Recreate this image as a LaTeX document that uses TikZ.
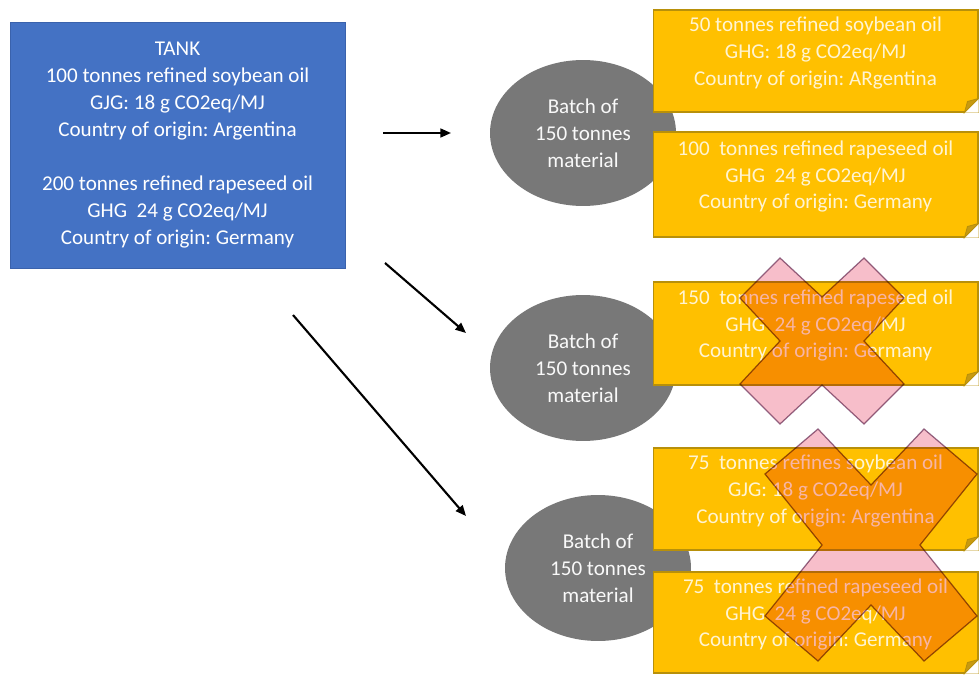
\documentclass[tikz,border=0pt]{standalone}
\usepackage{fontspec}
\setmainfont{Carlito}
\frenchspacing
\usetikzlibrary{shapes.geometric,arrows.meta}
\definecolor{tankblue}{HTML}{4472C4}
\definecolor{tankedge}{HTML}{3A62AC}
\definecolor{batchgray}{HTML}{787878}
\definecolor{oilyellow}{HTML}{FFC000}
\definecolor{oiledge}{HTML}{B8900A}
\definecolor{oiltext}{HTML}{FFF4D2}
\definecolor{folddark}{HTML}{C89A10}
\definecolor{crosspink}{RGB}{247,190,202}
\definecolor{crossedge}{RGB}{150,110,140}
\newcommand{\drawcross}[8]{% cx cy a h w c tn sn
  \path[crossstyle] ({#1-#3},{#2-#4}) -- ({#1},{#2-#7}) -- ({#1+#3},{#2-#4})
   -- ({#1+#5},{#2-#6}) -- ({#1+#8},{#2}) -- ({#1+#5},{#2+#6})
   -- ({#1+#3},{#2+#4}) -- ({#1},{#2+#7}) -- ({#1-#3},{#2+#4})
   -- ({#1-#5},{#2+#6}) -- ({#1-#8},{#2}) -- ({#1-#5},{#2-#6}) -- cycle;}
\tikzset{
  tankbox/.style={rectangle, fill=tankblue, draw=tankedge, line width=0.5pt, text=white, align=center, inner sep=0pt},
  batch/.style={ellipse, fill=batchgray, minimum width=3.72cm, minimum height=2.92cm, inner sep=0pt, text=white!95!gray, align=center},
  oilbox/.style={rectangle, fill=oilyellow, draw=oiledge, line width=0.6pt, minimum width=6.5cm, inner sep=0pt},
  oillabel/.style={text=oiltext, align=center, inner sep=0pt},
  fold/.style={fill=folddark, draw=oiledge, line width=0.5pt},
  flow/.style={line width=1.2pt, -{Triangle[length=6pt,width=5pt]}},
  crossstyle/.style={fill=crosspink, draw=crossedge, line width=0.7pt, blend mode=multiply}
}
\begin{document}
\begin{tikzpicture}[x=0.02cm, y=-0.02cm, font=\fontsize{12}{15.3}\selectfont]
\useasboundingbox[fill=white] (0,0) rectangle (979,675);

% tank
\node[tankbox, minimum width=6.7cm, minimum height=4.92cm] (tank) at (177.5,145)
 {TANK\\100 tonnes refined soybean oil\\GJG: 18 g CO2eq/MJ\\Country of origin: Argentina\\[15.3pt]
  200 tonnes refined rapeseed oil\\GHG~~24 g CO2eq/MJ\\Country of origin: Germany};

% arrows
\coordinate (a1s) at (383,133); \coordinate (a1e) at (451,133);
\coordinate (a2s) at (385,263); \coordinate (a2e) at (466,333);
\coordinate (a3s) at (293,315); \coordinate (a3e) at (466,516);
\draw[flow] (a1s) -- (a1e);
\draw[flow] (a2s) -- (a2e);
\draw[flow] (a3s) -- (a3e);

% batches
\node[batch] (b1) at (583,133) {Batch of\\150 tonnes\\material};
\node[batch] (b2) at (583,368) {Batch of\\150 tonnes\\material};
\node[batch] (b3) at (598,568) {Batch of\\150 tonnes\\material};

% oil boxes
\node[oilbox, minimum height=2.04cm] (o1) at (815.5,61) {};
\node[oilbox, minimum height=2.10cm] (o2) at (815.5,184.5) {};
\node[oilbox, minimum height=2.06cm] (o3) at (815.5,333.5) {};
\node[oilbox, minimum height=2.04cm] (o4) at (815.5,499) {};
\node[oilbox, minimum height=2.02cm] (o5) at (815.5,622.5) {};
\foreach \b in {o1,o2,o3,o4,o5}{
  \fill[white] (\b.south east) -- ++(0,-14) -- ++(-14,14) -- cycle;
  \filldraw[fold] (\b.south east) ++(0,-14) -- ++(-14,14) -- ++(3,-11) -- cycle;
}
\node[oillabel] (t1) at ([yshift=0.16cm]o1.center) {50 tonnes refined soybean oil\\GHG: 18 g CO2eq/MJ\\Country of origin: ARgentina};
\node[oillabel] (t2) at ([yshift=0.16cm]o2.center) {100~ tonnes refined rapeseed oil\\GHG~~24 g CO2eq/MJ\\Country of origin: Germany};
\node[oillabel] (t3) at ([yshift=0.16cm]o3.center) {150~ tonnes refined rapeseed oil\\GHG~~24 g CO2eq/MJ\\Country of origin: Germany};
\node[oillabel] (t4) at ([yshift=0.16cm]o4.center) {75~ tonnes refines soybean oil\\GJG: 18 g CO2eq/MJ\\Country of origin: Argentina};
\node[oillabel] (t5) at ([yshift=0.16cm]o5.center) {75~ tonnes refined rapeseed oil\\GHG~~24 g CO2eq/MJ\\Country of origin: Germany};

% crosses
\drawcross{822}{341}{42}{83}{82}{43}{44}{42}
\drawcross{871}{545}{53}{116}{106}{71}{60}{49}
\end{tikzpicture}
\end{document}
